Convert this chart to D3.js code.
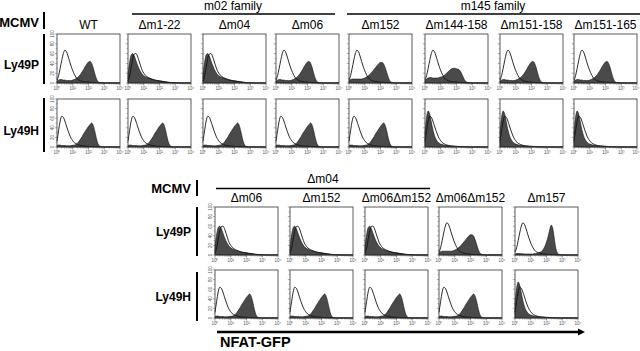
<!DOCTYPE html>
<html><head><meta charset="utf-8">
<script src="https://cdn.jsdelivr.net/npm/d3@7"></script>
<style>html,body{margin:0;padding:0;background:#fff;}svg{display:block;font-family:"Liberation Sans",Arial,sans-serif;}</style>
</head><body><svg id="c" width="640" height="351"></svg>
<script>
// ---------- DATA ----------
// histogram bins: log10(fluorescence) from 0 to 4 in steps of 0.1
const bins = d3.range(41).map(i => i / 10);
const decadeLabels = ["10\u2070", "10\u00b9", "10\u00b2", "10\u00b3", "10\u2074"];
const yTickLabels = [0, 20, 40, 60, 80, 100];

// open (unfilled) histograms, % of max
const openP    = [6,15,30,46,60,67,64,55,44,34,25,18,12,8,6,4.5,3.5,2.8,2.2,2,1.5,1.5,1.2,1,1,0.8,0.6,0.4,0.3,0.2,0.1,0,0,0,0,0,0,0,0,0,0];
const openH    = [12,34,54,64,62,54,44,34,25,18,13,9,7,5,4,3.2,2.6,2.2,2,1.5,1.5,1.2,1,0.8,0.6,0.5,0.4,0.3,0.2,0.1,0,0,0,0,0,0,0,0,0,0,0];
const openTail = [4,14,32,50,59,60,55,45,35,26,20,16,13,11,9.5,8,7,6,5,4.5,4,3.5,3,2.5,2,1.5,1.2,1,0.8,0.6,0.4,0.3,0.2,0.1,0,0,0,0,0,0,0];
// filled histograms
const filledP     = [4,6,7,7,6,6,5,5,5,5,6,7,9,11,14,18,23,28,34,39,43,44,40,31,19,9,3,1,0.5,0.2,0,0,0,0,0,0,0,0,0,0,0];
const filledH     = [3,4,4,3,3,3,2.5,2.5,2.5,3,3.5,4,5,8,12,17,22,28,33,38,43,47,50,45,33,18,7,2,0.5,0.2,0,0,0,0,0,0,0,0,0,0,0];
const filledTail  = [18,42,57,60,55,46,37,29,23,18,15,13,11,10,9,8,7,6,5.5,5,4.5,4,3.5,3,2.5,2,1.5,1.2,0.9,0.6,0.4,0.2,0.1,0,0,0,0,0,0,0,0];
const filledBroad = [5,7,8,8,8,8,8,8,8,9,10,12,14,17,20,24,28,32,36,40,42,42,39,31,21,11,4,1.5,0.5,0.2,0,0,0,0,0,0,0,0,0,0,0];
const filledWide  = [5,8,10,11,11,10,10,10,10,11,12,13,15,18,21,24,27,29,30,30,29,28,26,21,14,7,3,1,0.5,0.2,0,0,0,0,0,0,0,0,0,0,0];
const filledSharp = [2,3,3,3,2.5,2.5,2,2,2,2,2,2,2.5,3,3.5,4.5,6,8,12,18,27,38,52,62,55,33,13,4,1,0.3,0,0,0,0,0,0,0,0,0,0,0];
const filledSpike = [30,62,75,68,52,36,24,16,11,8,6,5,4,3.5,3,2.5,2,1.8,1.5,1.2,1,0.8,0.6,0.5,0.4,0.3,0.2,0.1,0,0,0,0,0,0,0,0,0,0,0,0,0];

const topSamples = ["WT","\u0394m1-22","\u0394m04","\u0394m06","\u0394m152","\u0394m144-158","\u0394m151-158","\u0394m151-165"];
const topP_open   = ["openP","openTail","openTail","openP","openP","openP","openP","openP"];
const topP_filled = ["filledP","filledTail","filledTail","filledP","filledBroad","filledWide","filledP","filledP"];
const topH_open   = ["openH","openH","openH","openH","openH","openH","openH","openH"];
const topH_filled = ["filledH","filledH","filledH","filledH","filledH","filledSpike","filledSpike","filledSpike"];

const botSamples = ["\u0394m06","\u0394m152","\u0394m06\u0394m152","\u0394m06\u0394m152","\u0394m157"];
const botP_open   = ["openTail","openTail","openTail","openP","openP"];
const botP_filled = ["filledTail","filledTail","filledTail","filledBroad","filledSharp"];
const botH_open   = ["openH","openH","openH","openH","openH"];
const botH_filled = ["filledH","filledH","filledH","filledH","filledSpike"];

const profiles = {openP, openH, openTail, filledP, filledH, filledTail, filledBroad, filledWide, filledSharp, filledSpike};

// ---------- LAYOUT ----------
const svg = d3.select("#c");
svg.append("rect").attr("width",640).attr("height",351).attr("fill","#fff");
const PW = 63;
const topX = [57,128,203,276,349,425,500,574];
const botX = [215,290,365,439,515];

function panel(x, y, h, openKey, filledKey, showY) {
  const g = svg.append("g");
  const xs = d3.scaleLinear().domain([0,4]).range([x, x+PW]);
  const ys = d3.scaleLinear().domain([0,100]).range([y+h, y]);
  const area = d3.area().x((d,i)=>xs(bins[i])).y0(ys(0)).y1(d=>ys(d)).curve(d3.curveMonotoneX);
  const line = d3.line().x((d,i)=>xs(bins[i])).y(d=>ys(d)).curve(d3.curveMonotoneX);
  g.append("path").attr("d", area(profiles[filledKey])).attr("fill","#4a4a4a").attr("stroke","#111").attr("stroke-width",0.6);
  g.append("path").attr("d", line(profiles[openKey])).attr("fill","none").attr("stroke","#111").attr("stroke-width",0.9);
  g.append("rect").attr("x",x).attr("y",y).attr("width",PW).attr("height",h).attr("fill","none").attr("stroke","#333").attr("stroke-width",0.8);
  // x ticks
  const minor = [];
  [0,1,2,3].forEach(d => { for (let k=2;k<=9;k++) minor.push(d+Math.log10(k)); });
  g.selectAll(null).data(minor).enter().append("line")
    .attr("x1",d=>xs(d)).attr("x2",d=>xs(d)).attr("y1",y+h).attr("y2",y+h+1.5).attr("stroke","#555").attr("stroke-width",0.5);
  g.selectAll(null).data(decadeLabels).enter().append("line")
    .attr("x1",(d,i)=>xs(i)).attr("x2",(d,i)=>xs(i)).attr("y1",y+h).attr("y2",y+h+2.5).attr("stroke","#444").attr("stroke-width",0.6);
  g.selectAll(null).data(decadeLabels).enter().append("text")
    .attr("x",(d,i)=>Math.min(xs(i), 636)).attr("y",y+h+6.5).attr("text-anchor","middle").attr("font-size",4.5).attr("fill","#555").text(d=>d);
  // y ticks
  const yt = d3.range(0,101,10);
  g.selectAll(null).data(yt).enter().append("line")
    .attr("x1",x).attr("x2",d=> d%20===0 ? x-2.2 : x-1.3).attr("y1",d=>ys(d)).attr("y2",d=>ys(d)).attr("stroke","#555").attr("stroke-width",0.5);
  if (showY) {
    g.selectAll(null).data(yTickLabels).enter().append("text")
      .attr("transform",d=>`translate(${x-3.5},${ys(d)}) rotate(-90)`)
      .attr("text-anchor","middle").attr("font-size",4.5).attr("fill","#555").text(d=>d);
  }
}

function text(x, y, s, size, bold, anchor) {
  svg.append("text").attr("x",x).attr("y",y).attr("font-size",size)
    .attr("font-weight",bold?"bold":"normal").attr("text-anchor",anchor||"middle").attr("fill","#000").text(s);
}
function bar(x1,y1,x2,y2,w) {
  svg.append("line").attr("x1",x1).attr("y1",y1).attr("x2",x2).attr("y2",y2).attr("stroke","#000").attr("stroke-width",w);
}

// ---- top block ----
text(39, 27, "MCMV", 13, true, "end");
bar(44, 12, 44, 29, 2);
text(233, 10, "m02 family", 12, false);
bar(132, 14, 335, 14, 1.5);
text(493, 10, "m145 family", 12, false);
bar(347, 14, 640, 14, 1.5);
topSamples.forEach((s,i) => text(topX[i]+PW/2, 29, s, 12, false));
text(39, 69, "Ly49P", 12, true, "end");
bar(44, 34, 44, 84, 2);
text(39, 135, "Ly49H", 12, true, "end");
bar(44, 98, 44, 152, 2);
topX.forEach((x,i) => panel(x, 34, 49, topP_open[i], topP_filled[i], i===0));
topX.forEach((x,i) => panel(x, 99, 48, topH_open[i], topH_filled[i], i===0));

// ---- bottom block ----
text(191, 193, "MCMV", 13, true, "end");
bar(197, 180, 197, 196, 2);
text(323, 183, "\u0394m04", 12, false);
bar(216, 188.5, 430, 188.5, 1.5);
botSamples.forEach((s,i) => text(botX[i]+PW/2, 202, s, 12, false));
text(191, 236, "Ly49P", 12, true, "end");
bar(197, 207, 197, 256, 2);
text(191, 301, "Ly49H", 12, true, "end");
bar(197, 272, 197, 321, 2);
botX.forEach((x,i) => panel(x, 207, 48, botP_open[i], botP_filled[i], i===0));
botX.forEach((x,i) => panel(x, 270, 48, botH_open[i], botH_filled[i], i===0));

// arrow
bar(217, 332, 579, 332, 2.5);
svg.append("path").attr("d", d3.line()([[578,328.5],[585,332],[578,335.5]]) + "Z").attr("fill","#000");
text(220, 347, "NFAT-GFP", 14.5, true, "start");
</script></body></html>
